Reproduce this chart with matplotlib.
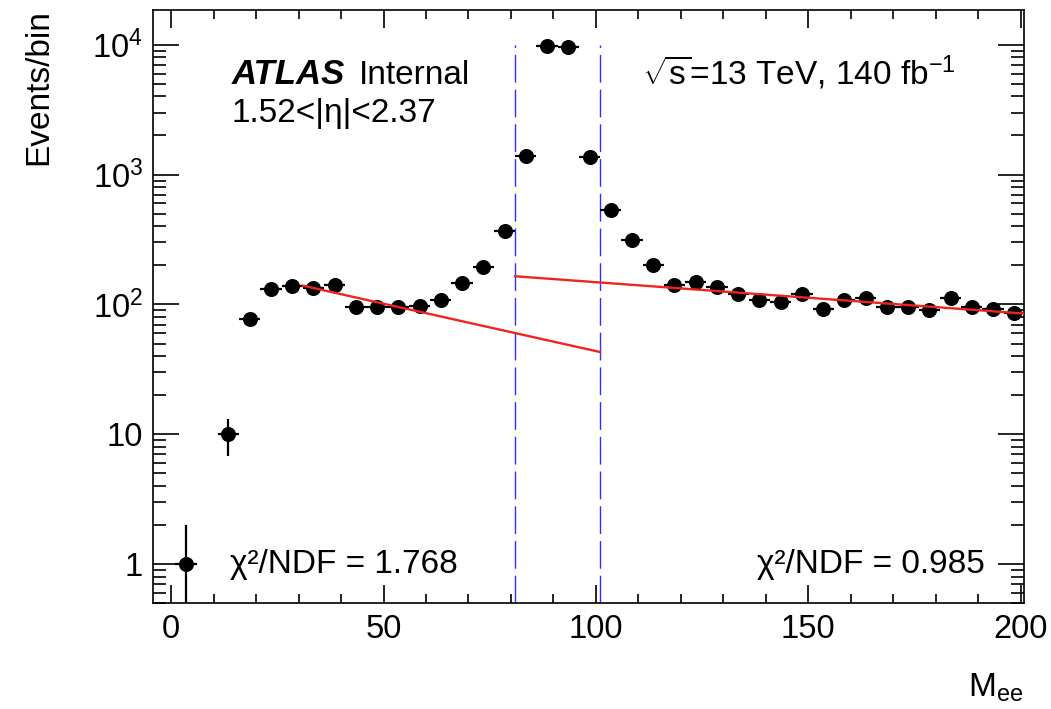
import numpy as np
import matplotlib
matplotlib.use("Agg")
import matplotlib.pyplot as plt
from matplotlib.ticker import FixedLocator, FuncFormatter, LogLocator, MultipleLocator, NullFormatter

plt.rcParams["font.family"] = ["Liberation Sans", "DejaVu Sans"]
plt.rcParams["mathtext.fontset"] = "custom"
plt.rcParams["mathtext.rm"] = "Liberation Sans"
plt.rcParams["mathtext.it"] = "Liberation Sans:italic"
plt.rcParams["mathtext.bf"] = "Liberation Sans:bold"

# ==========================
# Data
# ==========================

mass = [3.5, 13.5, 18.5, 23.5, 28.5, 33.5, 38.5, 43.5, 48.5, 53.5,
        58.5, 63.5, 68.5, 73.5, 78.5, 83.5, 88.5, 93.5, 98.5, 103.5,
        108.5, 113.5, 118.5, 123.5, 128.5, 133.5, 138.5, 143.5, 148.5, 153.5,
        158.5, 163.5, 168.5, 173.5, 178.5, 183.5, 188.5, 193.5, 198.5]

events = [1, 10, 77, 132, 139, 133, 141, 96, 95, 96,
          97, 108, 147, 193, 370, 1400, 9700, 9600, 1360, 534,
          313, 201, 141, 150, 137, 120, 108, 104, 120, 92,
          108, 113, 95, 96, 91, 112, 95, 93, 86]

bin_half_width = 2.5

# exponential fits (straight on a log axis): end points
fit_left_x = [31, 101]
fit_left_y = [139.6, 43.0]
fit_right_x = [81, 201]
fit_right_y = [164.8, 85.0]

# Z window
window_edges = [81, 101]
window_top = 1e4

chi2_left = "1.768"
chi2_right = "0.985"

# ==========================
# Figure
# ==========================

W, H = 1051, 709
fig = plt.figure(figsize=(W / 100, H / 100), dpi=100)

x0, x1, y0, y1 = 153.3, 1024.3, 10, 603.3
ax = fig.add_axes([x0 / W, 1 - y1 / H, (x1 - x0) / W, (y1 - y0) / H])

ax.set_yscale("log")
ax.set_xlim(-4.2, 200.85)
ax.set_ylim(0.5, 1.85e4)

y = np.array(events, dtype=float)
ax.errorbar(
    mass, y,
    yerr=np.sqrt(y),
    xerr=bin_half_width,
    fmt="o",
    color="black",
    ms=9.8,
    elinewidth=1.6,
    capsize=0,
    zorder=3
)

ax.plot(fit_left_x, fit_left_y, color="#f0241c", lw=1.7, zorder=4)
ax.plot(fit_right_x, fit_right_y, color="#f0241c", lw=1.7, zorder=4)

ax.vlines(
    window_edges, 0.5, window_top,
    colors="#2f2fff",
    linewidth=1.0,
    linestyles=(0, (20, 5)),
    zorder=2
)

# ==========================
# Axes style
# ==========================

for s in ax.spines.values():
    s.set_linewidth(1.2)

ax.xaxis.set_major_locator(MultipleLocator(50))
ax.xaxis.set_minor_locator(MultipleLocator(10))
ax.yaxis.set_major_locator(FixedLocator([1, 10, 100, 1000, 10000]))
ax.yaxis.set_minor_locator(LogLocator(base=10, subs=np.arange(2, 10)))
ax.yaxis.set_minor_formatter(NullFormatter())


def log_label(v, pos):
    e = int(round(np.log10(v)))
    if e == 0:
        return "1"
    if e == 1:
        return "10"
    return r"$10^{%d}$" % e


ax.yaxis.set_major_formatter(FuncFormatter(log_label))

ax.tick_params(axis="both", which="both", direction="in", top=True, right=True, width=1.2)
ax.tick_params(axis="x", which="major", length=13, pad=8, labelsize=23.5)
ax.tick_params(axis="x", which="minor", length=6.7)
ax.tick_params(axis="y", which="major", length=18.7, pad=7.4, labelsize=23.5)
ax.tick_params(axis="y", which="minor", length=9.4)

# ==========================
# Labels
# ==========================

fig.text(39 / W, 1 - 9 / H, "Events/bin", rotation=90,
         ha="center", va="top", fontsize=24)
fig.text(1023 / W, 1 - 696.7 / H, r"M$_{\mathregular{ee}}$",
         ha="right", va="baseline", fontsize=24)

ax.text(0.090, 0.8753, "ATLAS", transform=ax.transAxes,
        fontsize=25, fontweight="bold", fontstyle="italic", va="baseline")
ax.text(0.2365, 0.8753, "Internal", transform=ax.transAxes,
        fontsize=24, va="baseline")
ax.text(0.090, 0.8117, "1.52<|η|<2.37", transform=ax.transAxes,
        fontsize=24, va="baseline")
ax.text(0.5607, 0.8736, r"$\sqrt{\mathregular{s}}$=13 TeV, 140 fb$^{\mathregular{-1}}$",
        transform=ax.transAxes, fontsize=24, va="baseline")

ax.text(0.0881, 0.051, "χ²/NDF = " + chi2_left, transform=ax.transAxes,
        fontsize=24, va="baseline")
ax.text(0.9549, 0.051, "χ²/NDF = " + chi2_right, transform=ax.transAxes,
        fontsize=24, va="baseline", ha="right")

fig.savefig("out.png", dpi=100)
plt.close(fig)
